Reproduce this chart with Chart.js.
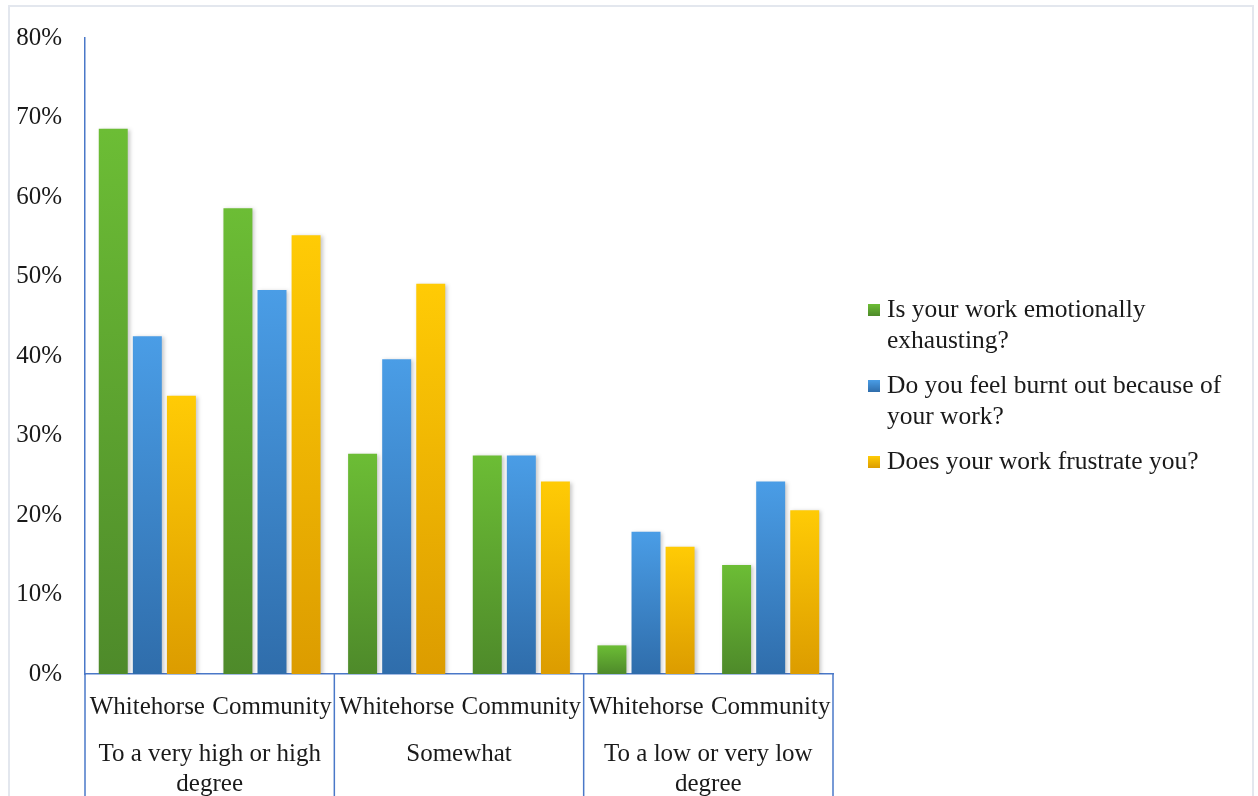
<!DOCTYPE html>
<html>
<head>
<meta charset="utf-8">
<script src="https://cdn.jsdelivr.net/npm/chart.js@4"></script>
<style>
  html, body { margin: 0; padding: 0; background: #fff; overflow: hidden; }
  #page { position: relative; width: 1258px; height: 796px; }
  #frame { position: absolute; left: 8px; top: 5px; width: 1246px; height: 820px;
           border: 2px solid #e3e7ee; box-sizing: border-box; }
  #myChart { position: absolute; left: 0; top: 0; }
  #legend { position: absolute; left: 866px; top: 293px; font-family: "Liberation Serif", serif;
            font-size: 25.5px; color: #1a1a1a; line-height: 31px; }
  #legend .item { position: relative; padding-left: 21px; margin-bottom: 14px; white-space: nowrap; }
  #legend .box { position: absolute; left: 2px; top: 11px; width: 12px; height: 12px; }
</style>
</head>
<body>
<div id="page">
  <div id="frame"></div>
  <canvas id="myChart" width="1258" height="796"></canvas>
  <div id="legend"></div>
</div>
<script>
  // categories on the first axis row, groups on the second
  const categories = ['Whitehorse', 'Community', 'Whitehorse', 'Community', 'Whitehorse', 'Community'];
  const groups = [['To a very high or high', 'degree'], 'Somewhat', ['To a low or very low', 'degree']];

  // series (percent)
  const exhausting = [68.6, 58.6, 27.7, 27.5, 3.6, 13.7];
  const burntOut = [42.5, 48.3, 39.6, 27.5, 17.9, 24.2];
  const frustrate = [35.0, 55.2, 49.1, 24.2, 16.0, 20.6];

  const seriesNames = [
    ['Is your work emotionally', 'exhausting?'],
    ['Do you feel burnt out because of', 'your work?'],
    ['Does your work frustrate you?']
  ];

  const yTicks = [0, 10, 20, 30, 40, 50, 60, 70, 80];

  // top / bottom colours of each series gradient
  const shades = [
    ['#6cbd35', '#4e8a2a'],
    ['#4a9de6', '#2f6dab'],
    ['#ffcb05', '#dc9c00']
  ];

  const axisBlue = '#4a78c8';
  const font = { family: '"Liberation Serif", serif', size: 25 };

  // vertical gradient fitted to each bar
  function barFill(idx) {
    return function (ctx) {
      const chart = ctx.chart;
      if (!chart.chartArea || !chart.scales.y || ctx.raw == null) return shades[idx][0];
      const y = chart.scales.y;
      const top = y.getPixelForValue(ctx.raw);
      const bottom = y.getPixelForValue(0);
      const g = chart.ctx.createLinearGradient(0, top, 0, bottom);
      g.addColorStop(0, shades[idx][0]);
      g.addColorStop(1, shades[idx][1]);
      return g;
    };
  }

  // soft shadow behind the bars
  const barShadow = {
    id: 'barShadow',
    beforeDatasetsDraw(chart) {
      const c = chart.ctx;
      c.save();
      c.shadowColor = 'rgba(0,0,0,0.22)';
      c.shadowBlur = 4;
      c.shadowOffsetX = 2;
      c.shadowOffsetY = 1;
    },
    afterDatasetsDraw(chart) {
      chart.ctx.restore();
    }
  };

  // group dividers under the axis
  const groupLines = {
    id: 'groupLines',
    afterDraw(chart) {
      const c = chart.ctx, x = chart.scales.x, area = chart.chartArea;
      const xs = [area.left];
      for (let i = 1; i < categories.length; i += 2) {
        if (i + 1 < categories.length) {
          xs.push((x.getPixelForValue(i) + x.getPixelForValue(i + 1)) / 2);
        }
      }
      xs.push(area.right);
      c.save();
      c.strokeStyle = axisBlue;
      c.lineWidth = 1.5;
      xs.forEach(function (px) {
        c.beginPath();
        c.moveTo(px, area.bottom);
        c.lineTo(px, chart.height);
        c.stroke();
      });
      c.restore();
    }
  };

  const data = {
    labels: categories,
    datasets: [
      { label: seriesNames[0].join(' '), data: exhausting, backgroundColor: barFill(0) },
      { label: seriesNames[1].join(' '), data: burntOut, backgroundColor: barFill(1) },
      { label: seriesNames[2].join(' '), data: frustrate, backgroundColor: barFill(2) }
    ]
  };

  const config = {
    type: 'bar',
    data: data,
    options: {
      responsive: false,
      animation: false,
      devicePixelRatio: 1,
      categoryPercentage: 0.82,
      barPercentage: 0.85,
      layout: { padding: { top: 38, right: 425, bottom: 0, left: 0 } },
      plugins: {
        legend: { display: false },
        tooltip: { enabled: false }
      },
      scales: {
        y: {
          min: 0,
          max: 80,
          afterBuildTicks: function (s) { s.ticks = yTicks.map(function (v) { return { value: v }; }); },
          afterFit: function (s) { s.width = 85; },
          grid: { display: false, drawTicks: false },
          border: { display: true, color: axisBlue, width: 1.5 },
          ticks: {
            padding: 23,
            color: '#1a1a1a',
            font: font,
            callback: function (v) { return v + '%'; }
          }
        },
        x: {
          weight: 0,
          afterFit: function (s) { s.height = 48; },
          grid: { display: false, drawTicks: false },
          border: { display: true, color: axisBlue, width: 1.5 },
          ticks: { padding: 18, color: '#1a1a1a', font: font, maxRotation: 0, autoSkip: false }
        },
        x2: {
          type: 'category',
          position: 'bottom',
          weight: 1,
          labels: groups,
          offset: true,
          afterFit: function (s) { s.height = 74; },
          grid: { display: false, drawTicks: false },
          border: { display: false },
          ticks: {
            padding: 17,
            color: '#1a1a1a',
            font: { family: font.family, size: 25, lineHeight: 1.22 },
            maxRotation: 0,
            autoSkip: false
          }
        }
      }
    },
    plugins: [barShadow, groupLines]
  };

  const ctx = document.getElementById('myChart').getContext('2d');
  const chart = new Chart(ctx, config);

  // legend with wrapped entries
  const legend = document.getElementById('legend');
  seriesNames.forEach(function (lines, i) {
    const item = document.createElement('div');
    item.className = 'item';
    const box = document.createElement('span');
    box.className = 'box';
    box.style.background = 'linear-gradient(' + shades[i][0] + ', ' + shades[i][1] + ')';
    item.appendChild(box);
    lines.forEach(function (t, j) {
      if (j > 0) item.appendChild(document.createElement('br'));
      item.appendChild(document.createTextNode(t));
    });
    legend.appendChild(item);
  });
</script>
</body>
</html>
